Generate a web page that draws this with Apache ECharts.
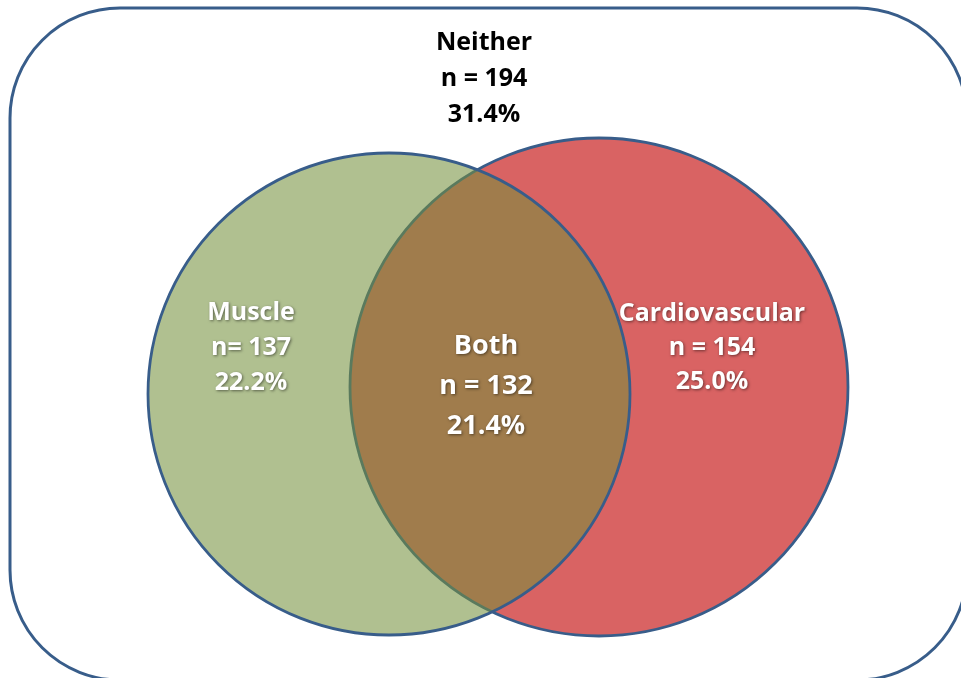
<!DOCTYPE html>
<html>
<head>
<meta charset="utf-8">
<script src="https://cdn.jsdelivr.net/npm/echarts@6/dist/echarts.min.js"></script>
<style>
  html, body { margin: 0; padding: 0; background: #fff; }
  #chart { width: 961px; height: 678px; }
</style>
</head>
<body>
<div id="chart"></div>
<script>
// the counts shown in the diagram
const groups = ['Neither', 'Muscle', 'Both', 'Cardiovascular'];
const counts = [194, 137, 132, 154];
const percents = [31.4, 22.2, 21.4, 25.0];
const countPrefix = ['n = ', 'n= ', 'n = ', 'n = '];

// layout, in the units of the hidden axes (same as pixels here)
const W = 961, H = 678;
const universe = [10, 8, 957, 672, 110];          // x, y, w, h, corner radius
const circleNames = ['Cardiovascular', 'Muscle'];  // red drawn first, green over it
const circleGeom = [[599, 387, 249], [389, 394, 241]];
const circleFill = ['#d96363', 'rgba(116,144,60,0.57)'];
const labelPos = [[484, 79], [251, 348], [486, 386], [712, 348]];
const labelSize = [25, 25, 27, 25];
const labelLine = [36, 35, 40, 34];
const labelColor = ['#000', '#fff', '#fff', '#fff'];

const BORDER = '#385d8a';
const FONT = '"Open Sans", "DejaVu Sans", sans-serif';

const chart = echarts.init(document.getElementById('chart'));

const option = {
  animation: false,
  grid: { left: 0, right: 0, top: 0, bottom: 0 },
  xAxis: { type: 'value', min: 0, max: W, show: false },
  yAxis: { type: 'value', min: 0, max: H, inverse: true, show: false },
  series: [
    {
      // the "Neither" frame
      type: 'custom',
      name: 'Neither',
      data: [universe],
      renderItem: (params, api) => {
        const p = api.coord([api.value(0), api.value(1)]);
        const s = api.size([api.value(2), api.value(3)]);
        const r = api.size([api.value(4), 0])[0];
        return {
          type: 'rect',
          shape: { x: p[0], y: p[1], width: Math.abs(s[0]), height: Math.abs(s[1]), r: r },
          style: { fill: 'none', stroke: BORDER, lineWidth: 3 }
        };
      }
    },
    {
      type: 'custom',
      name: 'sets',
      data: circleGeom.map((g, i) => ({ name: circleNames[i], value: g })),
      renderItem: (params, api) => {
        const p = api.coord([api.value(0), api.value(1)]);
        const r = Math.abs(api.size([api.value(2), 0])[0]);
        return {
          type: 'circle',
          shape: { cx: p[0], cy: p[1], r: r },
          style: { fill: circleFill[params.dataIndex], stroke: BORDER, lineWidth: 2.8 }
        };
      }
    },
    {
      type: 'custom',
      name: 'labels',
      data: groups.map((g, i) => ({ name: g, value: labelPos[i] })),
      renderItem: (params, api) => {
        const i = params.dataIndex;
        const p = api.coord([api.value(0), api.value(1)]);
        const white = labelColor[i] === '#fff';
        return {
          type: 'text',
          x: p[0],
          y: p[1],
          style: {
            text: groups[i] + '\n' + countPrefix[i] + counts[i] + '\n' + percents[i].toFixed(1) + '%',
            fill: labelColor[i],
            font: 'bold ' + labelSize[i] + 'px ' + FONT,
            lineHeight: labelLine[i],
            align: 'center',
            verticalAlign: 'middle',
            textShadowColor: white ? 'rgba(0,0,0,0.5)' : 'transparent',
            textShadowBlur: white ? 3 : 0,
            textShadowOffsetX: white ? 1 : 0,
            textShadowOffsetY: white ? 1 : 0
          }
        };
      }
    }
  ]
};

chart.setOption(option);
</script>
</body>
</html>
